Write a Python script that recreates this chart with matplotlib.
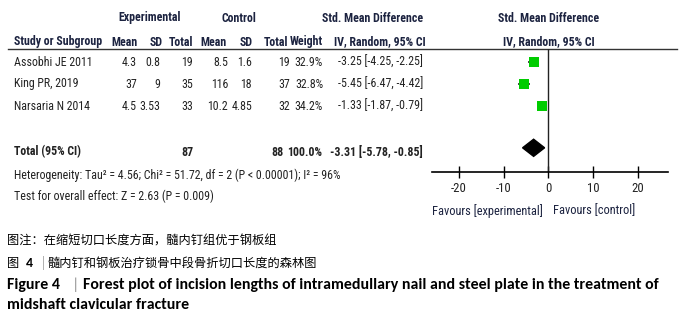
import matplotlib
matplotlib.use('Agg')
import matplotlib.pyplot as plt

# ---- data ----
studies = ["Assobhi JE 2011", "King PR, 2019", "Narsaria N 2014"]
exp_mean = ["4.3", "37", "4.5"]
exp_sd = ["0.8", "9", "3.53"]
exp_n = [19, 35, 33]
ctl_mean = ["8.5", "116", "10.2"]
ctl_sd = ["1.6", "18", "4.85"]
ctl_n = [19, 37, 32]
weights = [32.9, 32.8, 34.2]
smd = [-3.25, -5.45, -1.33]
ci_lo = [-4.25, -6.47, -1.87]
ci_hi = [-2.25, -4.42, -0.79]
total_exp, total_ctl, total_weight = 87, 88, 100.0
total_smd, total_lo, total_hi = -3.31, -5.78, -0.85
ticks = [-20, -10, 0, 10, 20]
heterogeneity = "Heterogeneity: Tau\u00b2 = 4.56; Chi\u00b2 = 51.72, df = 2 (P < 0.00001); I\u00b2 = 96%"
overall = "Test for overall effect: Z = 2.63 (P = 0.009)"

W, H = 682, 317
NARROW = ['Roboto Condensed', 'DejaVu Sans']
CJK = ['Noto Sans CJK SC', 'DejaVu Sans']
LAT = ['Carlito', 'DejaVu Sans']
HEAD = '#1c2340'
TXT = '#222222'
FS = 8.6

fig = plt.figure(figsize=(W / 100, H / 100), dpi=100)
bg = fig.add_axes([0, 0, 1, 1])
bg.set_xlim(0, W)
bg.set_ylim(H, 0)
bg.axis('off')


def row_px(r):
    # row index -> pixel y
    return 62 + 22 * r


def t(x, y, s, ha='left', bold=False, color=TXT, size=FS, family=NARROW):
    bg.text(x, y, s, ha=ha, va='center', fontsize=size, family=family,
            fontweight='bold' if bold else 'normal', color=color)


# headers
t(150, 18, "Experimental", ha='center', bold=True, color=HEAD)
t(239, 18, "Control", ha='center', bold=True, color=HEAD)
t(373, 18, "Std. Mean Difference", ha='center', bold=True, color=HEAD)
t(549, 18, "Std. Mean Difference", ha='center', bold=True, color=HEAD)
t(14, 42, "Study or Subgroup", bold=True, color=HEAD)
cols = [(138, "Mean"), (163, "SD"), (193, "Total"), (227, "Mean"),
        (253, "SD"), (288, "Total"), (323, "Weight")]
for x, s in cols:
    t(x, 42, s, ha='right', bold=True, color=HEAD)
t(380, 42, "IV, Random, 95% CI", ha='center', bold=True, color=HEAD)
t(549, 42, "IV, Random, 95% CI", ha='center', bold=True, color=HEAD)
bg.plot([8, 677], [48.5, 48.5], color='#333333', lw=1)

# study rows
for i, name in enumerate(studies):
    y = row_px(i)
    t(14, y, name)
    t(137, y, exp_mean[i], ha='right')
    t(160, y, exp_sd[i], ha='right')
    t(193, y, str(exp_n[i]), ha='right')
    t(228, y, ctl_mean[i], ha='right')
    t(252, y, ctl_sd[i], ha='right')
    t(290, y, str(ctl_n[i]), ha='right')
    t(323, y, f"{weights[i]:.1f}%", ha='right')
    t(423, y, f"{smd[i]:.2f} [{ci_lo[i]:.2f}, {ci_hi[i]:.2f}]", ha='right')

# total row
yt = row_px(4) + 2
t(14, yt, "Total (95% CI)", bold=True)
t(193, yt, str(total_exp), ha='right', bold=True)
t(284, yt, str(total_ctl), ha='right', bold=True)
t(322, yt, f"{total_weight:.1f}%", ha='right', bold=True)
t(423, yt, f"{total_smd:.2f} [{total_lo:.2f}, {total_hi:.2f}]", ha='right', bold=True)
t(14, 175, heterogeneity)
t(14, 196, overall)

# forest panel
x0, x1, ytop, ybot = 432, 668, 48.5, 172
fx = fig.add_axes([x0 / W, 1 - ybot / H, (x1 - x0) / W, (ybot - ytop) / H])
fx.set_xlim(-26.0, 26.7)
fx.set_ylim((ybot - 62) / 22, (ytop - 62) / 22)
for s in ['top', 'left', 'right']:
    fx.spines[s].set_visible(False)
fx.spines['bottom'].set_linewidth(1.2)
fx.set_yticks([])
fx.set_xticks(ticks)
fx.set_xticklabels([str(v) for v in ticks], fontfamily=NARROW, fontsize=FS + 0.6, color=TXT)
fx.tick_params(axis='x', direction='inout', length=9, width=1, pad=3)
fx.axvline(0, color='#222222', lw=1)
fx.patch.set_alpha(0)

for i in range(len(studies)):
    fx.plot([ci_lo[i], ci_hi[i]], [i, i], color='black', lw=1.2, zorder=2)
    fx.plot(smd[i], i, marker='s', markersize=7.5, color='#00cc00',
            markeredgewidth=0, zorder=3)

fx.fill([total_lo, total_smd, total_hi, total_smd],
        [3.9, 3.9 - 0.39, 3.9, 3.9 + 0.39], color='black', zorder=3)

xt = fx.get_xaxis_transform()
fx.text(-1.2, -0.26, "Favours [experimental]", transform=xt,
        ha='right', va='top', fontsize=FS + 0.3, family=NARROW, color=HEAD)
fx.text(1.0, -0.26, "Favours [control]", transform=xt,
        ha='left', va='top', fontsize=FS + 0.3, family=NARROW, color=HEAD)

# captions
CFS = 8.8
EFS = 11.4
t(7, 241, "图注：在缩短切口长度方面，髓内钉组优于钢板组", size=CFS, family=CJK, color='black')
t(7, 263, "图", size=CFS, family=CJK, color='black')
t(26, 263, "4", size=10, family=LAT, bold=True, color='black')
t(42, 263, "|", size=CFS, family=CJK, color='#999999')
t(47, 263, "髓内钉和钢板治疗锁骨中段骨折切口长度的森林图", size=CFS, family=CJK, color='black')
t(7, 285, "Figure 4", size=EFS, family=LAT, bold=True, color='black')
t(72, 285, "|", size=EFS, family=LAT, color='#999999')
t(83, 285, "Forest plot of incision lengths of intramedullary nail and steel plate in the treatment of",
  size=EFS, family=LAT, bold=True, color='black')
t(7, 305, "midshaft clavicular fracture", size=EFS, family=LAT, bold=True, color='black')

fig.savefig('out.png', dpi=100)
